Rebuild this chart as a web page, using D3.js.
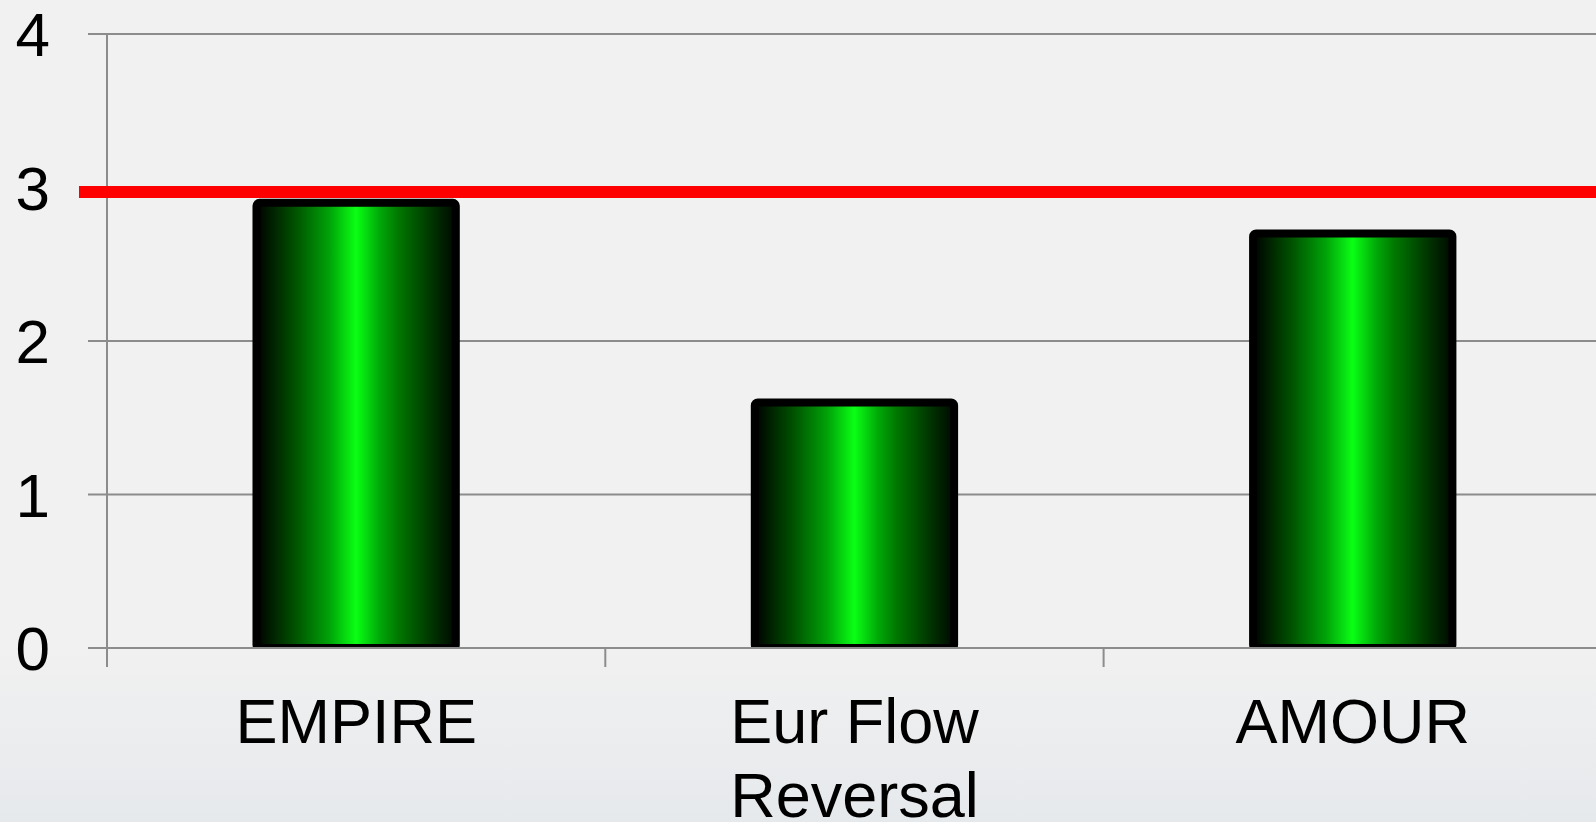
<!DOCTYPE html>
<html lang="en">

<head>
    <meta charset="UTF-8">
    <title>Bar chart with target line</title>
    <style>
        body {
            margin: 0;
            padding: 0;
            overflow: hidden;
        }

        svg {
            display: block;
            font-family: "Liberation Sans", Arial, sans-serif;
        }
    </style>
</head>

<body>
    <script src="https://d3js.org/d3.v7.min.js"></script>
    <script>
        // Chart data
        const categories = ["EMPIRE", "Eur Flow\nReversal", "AMOUR"];
        const values = [2.9, 1.6, 2.7];
        const target = 2.97;
        const yTicks = [0, 1, 2, 3, 4];

        const width = 1596;
        const height = 822;

        const svg = d3.select("body").append("svg")
            .attr("width", width)
            .attr("height", height);

        const defs = svg.append("defs");

        // Background: flat light grey fading slightly bluish at the bottom
        const bg = defs.append("linearGradient")
            .attr("id", "bg")
            .attr("x1", 0).attr("y1", 0).attr("x2", 0).attr("y2", 1);
        bg.append("stop").attr("offset", "0.78").attr("stop-color", "#f1f1f1");
        bg.append("stop").attr("offset", "1").attr("stop-color", "#e6e9ec");

        // Bar fill: black edges, bright green centre
        const barGrad = defs.append("linearGradient")
            .attr("id", "barFill")
            .attr("x1", 0).attr("y1", 0).attr("x2", 1).attr("y2", 0);
        [
            [0, "#000000"],
            [0.19, "#005000"],
            [0.365, "#00a308"],
            [0.5, "#0aff14"],
            [0.62, "#00a808"],
            [0.71, "#007800"],
            [0.89, "#003000"],
            [1, "#000800"]
        ].forEach(s => barGrad.append("stop").attr("offset", s[0]).attr("stop-color", s[1]));

        svg.append("rect")
            .attr("width", width)
            .attr("height", height)
            .attr("fill", "url(#bg)");

        // Scales
        const left = 107;
        const step = 498.3;
        const x = d3.scaleBand()
            .domain(categories)
            .range([left, left + step * categories.length])
            .padding(0);

        const y = d3.scaleLinear()
            .domain([0, 4])
            .range([648, 34]);

        // keep bars from spilling below the baseline
        defs.append("clipPath")
            .attr("id", "plotClip")
            .append("rect")
            .attr("x", 0)
            .attr("y", 0)
            .attr("width", width)
            .attr("height", y(0) + 1);

        const gridColor = "#8c8c8c";

        // Horizontal gridlines (with small tick stubs on the left)
        svg.append("g")
            .selectAll("line")
            .data(yTicks)
            .join("line")
            .attr("x1", left - 19)
            .attr("x2", width)
            .attr("y1", d => y(d))
            .attr("y2", d => y(d))
            .attr("stroke", gridColor)
            .attr("stroke-width", 2);

        // Y axis labels
        svg.append("g")
            .selectAll("text")
            .data(yTicks)
            .join("text")
            .attr("x", 50)
            .attr("y", d => y(d))
            .attr("dy", "0.36em")
            .attr("text-anchor", "end")
            .attr("font-size", 62)
            .attr("fill", "#000")
            .text(d => d);

        // Bars
        const barW = x.bandwidth() * 0.4;
        svg.append("g")
            .attr("clip-path", "url(#plotClip)")
            .selectAll("rect")
            .data(values)
            .join("rect")
            .attr("x", (d, i) => x(categories[i]) + x.bandwidth() / 2 - barW / 2)
            .attr("y", d => y(d))
            .attr("width", barW)
            .attr("height", d => y(0) - y(d))
            .attr("rx", 3)
            .attr("fill", "url(#barFill)")
            .attr("stroke", "#000")
            .attr("stroke-width", 8);

        // X axis baseline, y axis line and category ticks
        svg.append("line")
            .attr("x1", left - 19)
            .attr("x2", width)
            .attr("y1", y(0))
            .attr("y2", y(0))
            .attr("stroke", gridColor)
            .attr("stroke-width", 2);

        svg.append("line")
            .attr("x1", left)
            .attr("x2", left)
            .attr("y1", y(4))
            .attr("y2", y(0) + 19)
            .attr("stroke", gridColor)
            .attr("stroke-width", 2);

        svg.append("g")
            .selectAll("line")
            .data(categories.slice(1))
            .join("line")
            .attr("x1", d => x(d))
            .attr("x2", d => x(d))
            .attr("y1", y(0))
            .attr("y2", y(0) + 19)
            .attr("stroke", gridColor)
            .attr("stroke-width", 2);

        // Category labels (multi-line)
        const labels = svg.append("g")
            .selectAll("text")
            .data(categories)
            .join("text")
            .attr("text-anchor", "middle")
            .attr("font-size", 63)
            .attr("fill", "#000");

        labels.each(function (d) {
            const cx = x(d) + x.bandwidth() / 2;
            d3.select(this).selectAll("tspan")
                .data(d.split("\n"))
                .join("tspan")
                .attr("x", cx)
                .attr("y", (t, i) => 743 + i * 74)
                .text(t => t);
        });

        // Red target line
        svg.append("line")
            .attr("x1", 79)
            .attr("x2", width)
            .attr("y1", y(target))
            .attr("y2", y(target))
            .attr("stroke", "#ff0000")
            .attr("stroke-width", 12);
    </script>
</body>

</html>
